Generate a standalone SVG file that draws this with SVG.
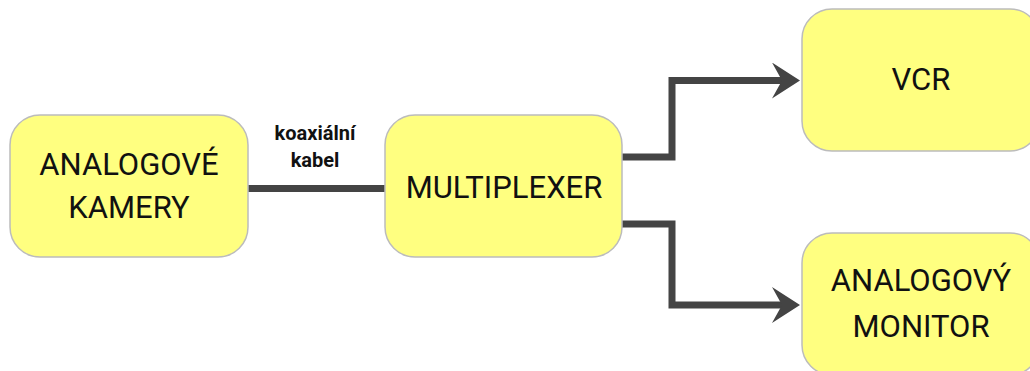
<svg xmlns="http://www.w3.org/2000/svg" width="1030" height="371" viewBox="0 0 1030 371">
<style>
.box{fill:#ffff80;stroke:#bcbcbc;stroke-width:1.5}
.t{font-family:Roboto,"Liberation Sans",sans-serif;font-size:31px;fill:#111;text-anchor:middle}
.lbl{font-family:Roboto,"Liberation Sans",sans-serif;font-size:20px;font-weight:bold;fill:#111;text-anchor:middle}
.c{fill:none;stroke:#444;stroke-width:7}
</style>
<defs>
<marker id="ah" markerUnits="userSpaceOnUse" markerWidth="30" markerHeight="36" refX="16" refY="18" orient="auto" viewBox="0 0 30 36">
<path d="M28,18 L0,0 L10,18 L0,36 Z" fill="#444"/>
</marker>
</defs>
<g id="connectors">
<path class="c" d="M248,188.5 H385"/>
<path class="c" d="M622,157 H672 V80.5 H788" marker-end="url(#ah)"/>
<path class="c" d="M622,224 H672 V305 H788" marker-end="url(#ah)"/>
<text class="lbl" x="315" y="140">koaxiální</text>
<text class="lbl" x="315" y="167">kabel</text>
</g>
<g id="kamery">
<rect class="box" x="10" y="115" width="238" height="142" rx="30"/>
<text class="t" x="129" y="175">ANALOGOVÉ</text>
<text class="t" x="129" y="218">KAMERY</text>
</g>
<g id="multiplexer">
<rect class="box" x="385" y="115" width="237" height="142" rx="30"/>
<text class="t" x="504" y="198">MULTIPLEXER</text>
</g>
<g id="vcr">
<rect class="box" x="802" y="9" width="238" height="142" rx="30"/>
<text class="t" x="921" y="90">VCR</text>
</g>
<g id="monitor">
<rect class="box" x="802" y="233" width="238" height="142" rx="30"/>
<text class="t" x="921" y="291">ANALOGOVÝ</text>
<text class="t" x="921" y="337">MONITOR</text>
</g>
</svg>
